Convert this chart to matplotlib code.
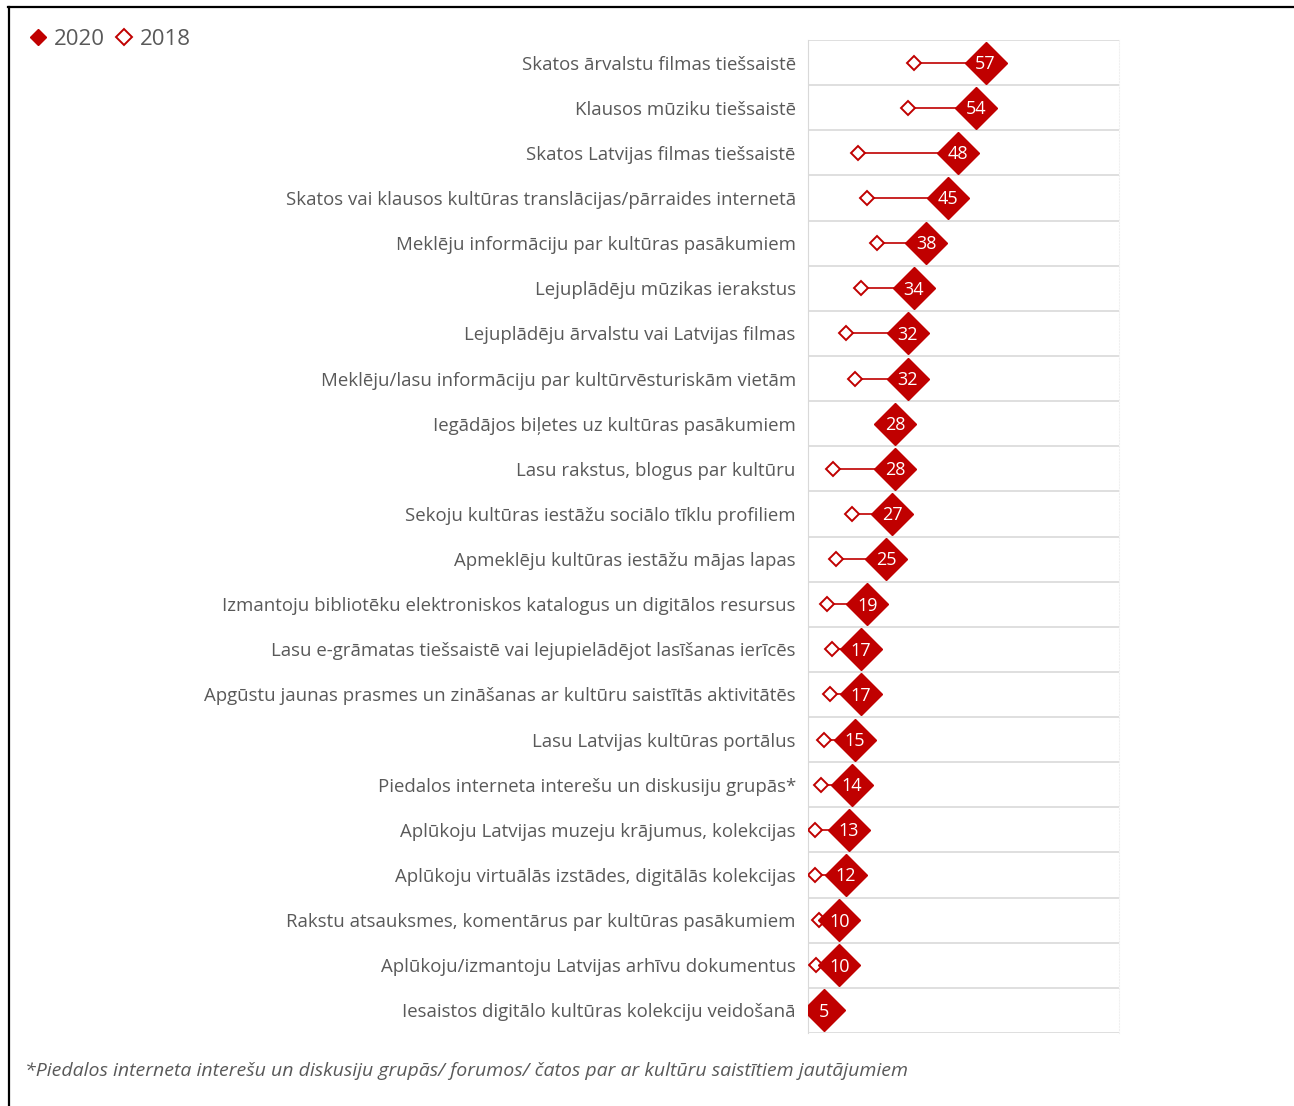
import numpy as np
import matplotlib
matplotlib.use("Agg")
import matplotlib.pyplot as plt
from matplotlib.lines import Line2D

# Dati
categories = [
    "Skatos ārvalstu filmas tiešsaistē",
    "Klausos mūziku tiešsaistē",
    "Skatos Latvijas filmas tiešsaistē",
    "Skatos vai klausos kultūras translācijas/pārraides internetā",
    "Meklēju informāciju par kultūras pasākumiem",
    "Lejuplādēju mūzikas ierakstus",
    "Lejuplādēju ārvalstu vai Latvijas filmas",
    "Meklēju/lasu informāciju par kultūrvēsturiskām vietām",
    "Iegādājos biļetes uz kultūras pasākumiem",
    "Lasu rakstus, blogus par kultūru",
    "Sekoju kultūras iestāžu sociālo tīklu profiliem",
    "Apmeklēju kultūras iestāžu mājas lapas",
    "Izmantoju bibliotēku elektroniskos katalogus un digitālos resursus",
    "Lasu e-grāmatas tiešsaistē vai lejupielādējot lasīšanas ierīcēs",
    "Apgūstu jaunas prasmes un zināšanas ar kultūru saistītās aktivitātēs",
    "Lasu Latvijas kultūras portālus",
    "Piedalos interneta interešu un diskusiju grupās*",
    "Aplūkoju Latvijas muzeju krājumus, kolekcijas",
    "Aplūkoju virtuālās izstādes, digitālās kolekcijas",
    "Rakstu atsauksmes, komentārus par kultūras pasākumiem",
    "Aplūkoju/izmantoju Latvijas arhīvu dokumentus",
    "Iesaistos digitālo kultūras kolekciju veidošanā",
]
values_2020 = [57, 54, 48, 45, 38, 34, 32, 32, 28, 28, 27, 25, 19, 17, 17, 15, 14, 13, 12, 10, 10, 5]
values_2018 = [34, 32, 16, 19, 22, 17, 12, 15, np.nan, 8, 14, 9, 6, 7.5, 7, 5, 4, 2, 2, 3.5, 2.5, np.nan]

footnote = "*Piedalos interneta interešu un diskusiju grupās/ forumos/ čatos par ar kultūru saistītiem jautājumiem"

RED = "#C00000"
GRAY = "#595959"

plt.rcParams["font.family"] = ["Open Sans", "DejaVu Sans"]

W, H = 1294, 1106
fig = plt.figure(figsize=(W / 100, H / 100), dpi=100)
ax = fig.add_axes([808.3 / W, 1 - 1033 / H, 311 / W, 993 / H])

y = np.arange(len(categories))
v20 = np.array(values_2020, dtype=float)
v18 = np.array(values_2018, dtype=float)

# savienojošās līnijas
for yi, a, b in zip(y, v18, v20):
    if not np.isnan(a):
        ax.plot([a, b], [yi, yi], color=RED, lw=1.2, zorder=2)

ax.plot(v18, y, linestyle="none", marker="D", ms=7.4, mfc="white",
        mec=RED, mew=1.4, zorder=3)
ax.plot(v20, y, linestyle="none", marker="D", ms=21.5, mfc=RED,
        mec=RED, zorder=4)
for yi, v in zip(y, values_2020):
    ax.text(v, yi + 0.03, f"{v}", ha="center", va="center", color="white",
            fontsize=13, zorder=5)

ax.set_xlim(0, 100)
ax.set_ylim(len(categories) - 0.5, -0.5)
ax.set_yticks(y)
ax.set_yticklabels(categories, color=GRAY, fontsize=13.4)
ax.set_yticks(np.arange(len(categories) + 1) - 0.5, minor=True)
ax.tick_params(axis="y", which="both", length=0, pad=9)
ax.set_xticks([])
ax.grid(which="minor", axis="y", color="#D9D9D9", lw=1.2)
ax.set_axisbelow(True)
for s in ["top", "bottom"]:
    ax.spines[s].set_visible(False)
ax.spines["left"].set_color("#D9D9D9")
ax.spines["right"].set_color("#F0F0F0")
ax.spines["right"].set_linestyle(":")

# leģenda
handles = [
    Line2D([], [], linestyle="none", marker="D", ms=8.5, mfc=RED, mec=RED),
    Line2D([], [], linestyle="none", marker="D", ms=8.5, mfc="white", mec=RED, mew=1.4),
]
fig.legend(handles, ["2020", "2018"], loc="upper left", bbox_to_anchor=(9 / W, 1 - 9 / H),
           ncol=2, frameon=False, fontsize=16, handlelength=0.8, handletextpad=0.3,
           columnspacing=0.5, labelcolor=GRAY)

fig.text(25 / W, 1 - 1071 / H, footnote, style="italic", color=GRAY,
         fontsize=14, va="center", ha="left")

# rāmis
fig.add_artist(Line2D([8 / W, 1], [1 - 7 / H, 1 - 7 / H], color="black", lw=1.6))
fig.add_artist(Line2D([9 / W, 9 / W], [0, 1 - 7 / H], color="black", lw=1.6))

fig.savefig("out.png", dpi=100)
